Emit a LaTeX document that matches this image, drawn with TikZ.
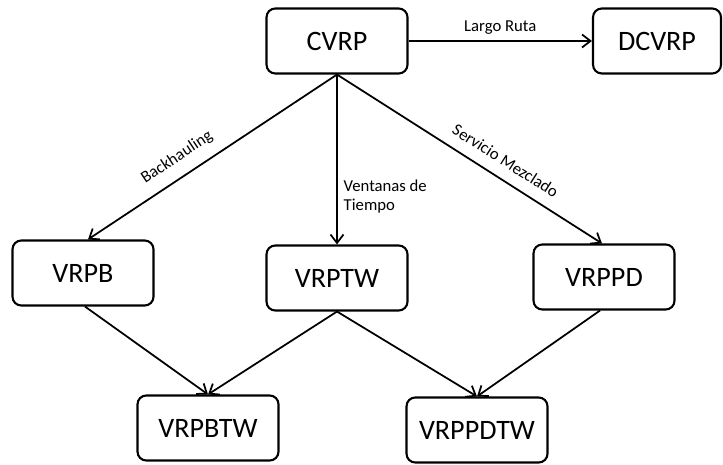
\documentclass[tikz,border=0pt]{standalone}
\usepackage{fontspec}
\setmainfont{Carlito}
\usetikzlibrary{arrows.meta,positioning}

\begin{document}
\begin{tikzpicture}[
    x=0.02cm, y=-0.02cm,
    model/.style={rectangle, draw, line width=1.2pt, rounded corners=5pt, fill=white,
        minimum width=2.82cm, minimum height=1.3cm, font=\fontsize{16}{19}\selectfont},
    edge/.style={-{Straight Barb[length=1.7mm,width=2.6mm]}, line width=1pt},
    tag/.style={font=\fontsize{9.5}{11}\selectfont}
]
\useasboundingbox (0,0) rectangle (723,465);
\node[model] (cvrp) at (337,41) {CVRP};
\node[model, minimum width=2.56cm] (dcvrp) at (657,41) {DCVRP};
\node[model] (vrpb) at (83,273) {VRPB};
\node[model] (vrptw) at (337,278) {VRPTW};
\node[model] (vrppd) at (604,277) {VRPPD};
\node[model] (vrpbtw) at (208,428) {VRPBTW};
\node[model] (vrppdtw) at (477,430) {VRPPDTW};
\draw[edge] (cvrp) -- node[tag, above] {Largo Ruta} (dcvrp);
\draw[edge] (cvrp.south) -- node[tag, above=3pt, sloped, pos=0.6] {Backhauling} ([xshift=0.1cm]vrpb.north);
\draw[edge] (cvrp.south) -- node[tag, right, align=left, pos=0.72] {Ventanas de\\Tiempo} (vrptw.north);
\draw[edge] (cvrp.south) -- node[tag, above=3pt, sloped, pos=0.6] {Servicio Mezclado} ([xshift=-0.04cm]vrppd.north);
\draw[edge] ([xshift=0.04cm]vrpb.south) -- (vrpbtw.north);
\draw[edge] (vrptw.south) -- (vrpbtw.north);
\draw[edge] (vrptw.south) -- (vrppdtw.north);
\draw[edge] ([xshift=-0.08cm]vrppd.south) -- (vrppdtw.north);
\end{tikzpicture}
\end{document}
